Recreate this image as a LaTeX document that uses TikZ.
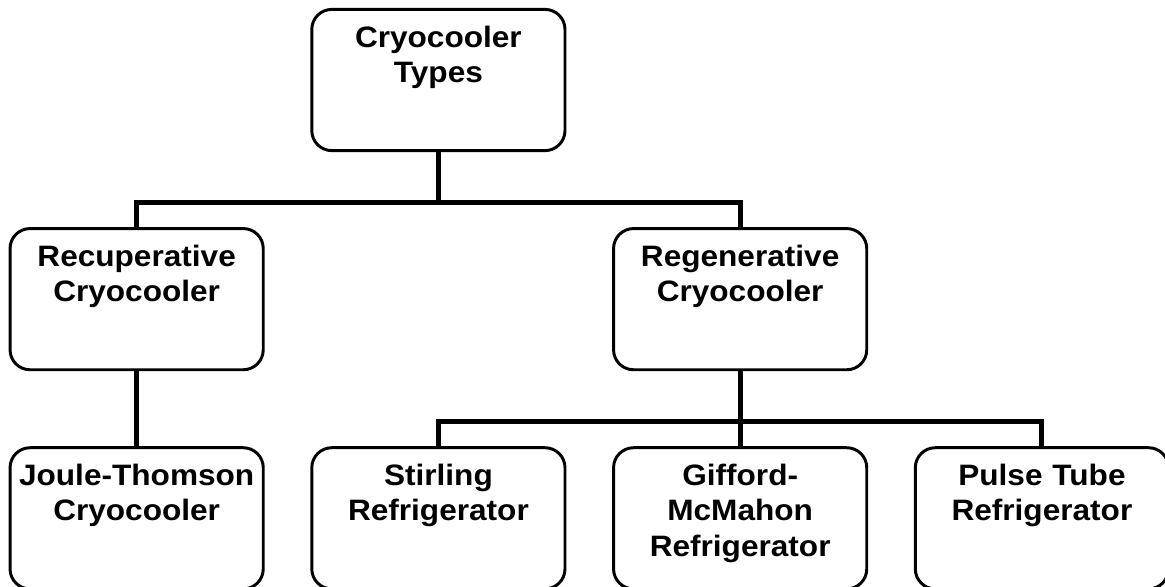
\documentclass[tikz,border=0pt]{standalone}
\usepackage{fontspec}
\setmainfont{Liberation Sans}[FakeStretch=1.07]
\usetikzlibrary{positioning}

\begin{document}
\begin{tikzpicture}[
    node distance=1.875cm and 1.14cm,
    box/.style={rectangle, draw, rounded corners=0.5cm, line width=2.1pt,
                text width=6.33cm, align=center, inner sep=0pt,
                text height=0.95cm, text depth=2.58cm,
                font=\fontsize{21}{25}\selectfont\bfseries},
    conn/.style={line width=3.5pt},
]
    \useasboundingbox (0,0) rectangle (29.125,-14.65);

    \node[box] (types) at (10.96,-2.0) {Cryocooler\\Types};
    \node[box, below left=of types]  (recup)    {Recuperative\\Cryocooler};
    \node[box, below right=of types] (regen)    {Regenerative\\Cryocooler};
    \node[box, below=of recup]       (joule)    {Joule-Thomson\\Cryocooler};
    \node[box, below=of regen]       (gifford)  {Gifford-\\McMahon\\Refrigerator};
    \node[box, left=of gifford]      (stirling) {Stirling\\Refrigerator};
    \node[box, right=of gifford]     (pulse)    {Pulse Tube\\Refrigerator};

    \coordinate[below=1.25cm of types] (bus1);
    \coordinate[below=1.25cm of regen] (bus2);

    \draw[conn] (types) -- (bus1);
    \draw[conn] (recup) |- (bus1) -| (regen);
    \draw[conn] (recup) -- (joule);
    \draw[conn] (regen) -- (gifford);
    \draw[conn] (stirling) |- (bus2) -| (pulse);
\end{tikzpicture}
\end{document}
